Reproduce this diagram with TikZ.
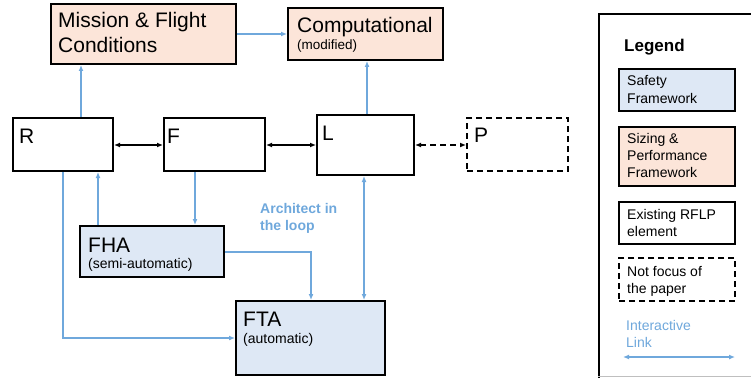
\documentclass[tikz,border=0pt]{standalone}
\usepackage{fontspec}
\setmainfont{Liberation Sans}
\usetikzlibrary{arrows.meta}
\definecolor{safety}{HTML}{DEE8F5}
\definecolor{sizing}{HTML}{FCE5D9}
\definecolor{linkblue}{HTML}{6FA8DC}
\tikzset{
  box/.style={draw=black, line width=2pt, rectangle, inner sep=0pt},
  safetybox/.style={box, fill=safety},
  sizingbox/.style={box, fill=sizing},
  plainbox/.style={box, fill=white},
  futurebox/.style={box, fill=white, dash pattern=on 6pt off 4pt},
  big/.style={anchor=base west, inner sep=0pt, font=\fontsize{21}{24}\selectfont},
  small/.style={anchor=base west, inner sep=0pt, font=\fontsize{14}{16}\selectfont},
  legtext/.style={anchor=base west, inner sep=0pt, font=\fontsize{14}{16}\selectfont},
  tip/.tip={Latex[length=6pt,width=5pt]},
  link/.style={draw=linkblue, line width=1.6pt, -tip},
  twolink/.style={draw=linkblue, line width=1.6pt, tip-tip},
  rel/.style={draw=black, line width=1.6pt, tip-tip},
}
\begin{document}
\begin{tikzpicture}[x=1pt,y=-1pt]
\useasboundingbox (0,0) rectangle (751,377);
\clip (0,0) rectangle (751,377);

% --- legend frame (runs off the right edge) ---
\node[box, fill=white, minimum width=170pt, minimum height=380pt, anchor=north west] (legend) at (598,13) {};
\draw[gray!50, line width=1pt] (598,376.5) -- (751,376.5);

% --- main boxes ---
\node[sizingbox, minimum width=185pt, minimum height=60pt] (mission) at (143.5,34) {};
\node[sizingbox, minimum width=155pt, minimum height=52pt] (comp) at (365.5,34) {};
\node[plainbox, minimum width=100pt, minimum height=53pt] (R) at (63,144.5) {};
\node[plainbox, minimum width=101pt, minimum height=53pt] (F) at (214.5,144.5) {};
\node[plainbox, minimum width=97pt, minimum height=60pt] (L) at (365.5,145) {};
\node[futurebox, minimum width=101pt, minimum height=53pt] (P) at (517.5,144.5) {};
\node[safetybox, minimum width=144pt, minimum height=51pt] (FHA) at (152,251.5) {};
\node[safetybox, minimum width=149pt, minimum height=74pt] (FTA) at (310.5,338) {};

% --- box labels ---
\node[big] (missionA) at (58,28) {Mission \& Flight};
\node[big] (missionB) at (58,53) {Conditions};
\node[big] (compA) at (297,33) {Computational};
\node[small, font=\fontsize{13.5}{16}\selectfont] (compB) at (297,50) {(modified)};
\node[big] (Rt) at (19,143) {R};
\node[big] (Ft) at (167,143) {F};
\node[big] (Lt) at (322,140) {L};
\node[big] (Pt) at (474,142) {P};
\node[big] (FHAt) at (88,252) {FHA};
\node[small] (FHAs) at (88,268) {(semi-automatic)};
\node[big] (FTAt) at (243,326) {FTA};
\node[small] (FTAs) at (243,343) {(automatic)};
\node[legtext, font=\bfseries\fontsize{14}{16}\selectfont, text=linkblue] (arch1) at (260,213) {Architect in};
\node[legtext, font=\bfseries\fontsize{14}{16}\selectfont, text=linkblue] (arch2) at (260,230) {the loop};

% --- anchor columns for the vertical links ---
\coordinate (xRM) at (81,0);
\coordinate (xRD) at (63,0);
\coordinate (xRU) at (98,0);
\coordinate (xF) at (195,0);
\coordinate (xLC) at (367,0);
\coordinate (xLF) at (364,0);
\coordinate (xFT) at (311,0);
\coordinate (yRow) at (0,145);
\coordinate (yLow) at (0,338);
\coordinate (yFHA) at (0,252);

% --- RFLP relations ---
\draw[rel] (R.east |- yRow) -- (F.west |- yRow);
\draw[rel] (F.east |- yRow) -- (L.west |- yRow);
\draw[rel, dash pattern=on 6pt off 4pt] (L.east |- yRow) -- (P.west |- yRow);

% --- interactive links ---
\draw[link] (R.north -| xRM) -- (mission.south -| xRM);
\draw[link] (mission.east |- comp.west) -- (comp.west);
\draw[link] (L.north -| xLC) -- (comp.south -| xLC);
\draw[twolink] (L.south -| xLF) -- (FTA.north -| xLF);
\draw[link] (F.south -| xF) -- (FHA.north -| xF);
\draw[link] (FHA.north -| xRU) -- (R.south -| xRU);
\draw[link] (R.south -| xRD) |- (FTA.west |- yLow);
\draw[link] (FHA.east |- yFHA) -| (FTA.north -| xFT);

% --- legend content ---
\node[legtext, font=\bfseries\fontsize{17}{20}\selectfont] (legtitle) at (624,52) {Legend};
\node[safetybox, minimum width=116pt, minimum height=42pt] (lgsafety) at (677,90) {};
\node[legtext] (lgs1) at (627,86) {Safety};
\node[legtext] (lgs2) at (627,103) {Framework};
\node[sizingbox, minimum width=116pt, minimum height=59pt] (lgsizing) at (677,156.5) {};
\node[legtext] (lgz1) at (627,143) {Sizing \&};
\node[legtext] (lgz2) at (627,160) {Performance};
\node[legtext] (lgz3) at (627,177) {Framework};
\node[plainbox, minimum width=116pt, minimum height=42pt] (lgexist) at (677,223) {};
\node[legtext] (lge1) at (627,219) {Existing RFLP};
\node[legtext] (lge2) at (627,236) {element};
\node[futurebox, minimum width=116pt, minimum height=43pt] (lgnot) at (677,279.5) {};
\node[legtext] (lgn1) at (627,276) {Not focus of};
\node[legtext] (lgn2) at (627,293) {the paper};
\node[legtext, text=linkblue] (lgl1) at (626,330) {Interactive};
\node[legtext, text=linkblue] (lgl2) at (626,347) {Link};
\coordinate (lgA) at (623,357);
\coordinate (lgB) at (735,357);
\draw[twolink] (lgA) -- (lgB);
\end{tikzpicture}
\end{document}
